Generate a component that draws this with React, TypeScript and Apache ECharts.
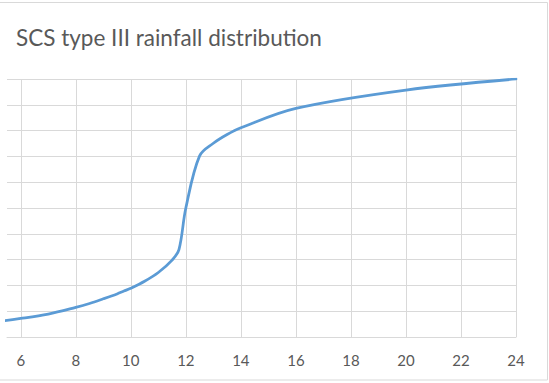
import React, { useEffect, useRef } from "react";
import * as echarts from "echarts";

const hours = [0, 2, 4, 6, 7, 8, 8.5, 9, 9.5, 9.75, 10, 10.5, 11, 11.5, 11.75, 12, 12.5, 13, 13.5, 14, 16, 20, 24];
const cumulative = [0, 0.02, 0.043, 0.072, 0.089, 0.115, 0.13, 0.148, 0.167, 0.178, 0.189, 0.216, 0.25, 0.298, 0.339, 0.5, 0.702, 0.751, 0.785, 0.811, 0.886, 0.957, 1.0];
const xTicks = [6, 8, 10, 12, 14, 16, 18, 20, 22, 24];
const titleText = "SCS type III rainfall distribution";

export default function App() {
  const ref = useRef<HTMLDivElement>(null);
  useEffect(() => {
    if (!ref.current) return;
    const chart = echarts.init(ref.current, undefined, { renderer: "svg" });
    const grid = "#d9d9d9";
    chart.setOption({
      animation: false,
      backgroundColor: "#ffffff",
      title: {
        text: titleText,
        left: 11,
        top: 21,
        textStyle: { fontFamily: "Lato", fontSize: 22.5, fontWeight: "normal", color: "#595959" },
      },
      graphic: [
        {
          type: "rect",
          shape: { x: -10, y: 2.5, width: 557.5, height: 377.5 },
          style: { fill: "none", stroke: grid, lineWidth: 1 },
          silent: true,
        },
      ],
      grid: { left: 7, right: 33, top: 79, bottom: 46, containLabel: false },
      xAxis: {
        type: "value",
        min: 5.5,
        max: 24,
        axisLine: { show: true, lineStyle: { color: grid, width: 1 } },
        axisTick: { show: false, customValues: xTicks },
        axisLabel: {
          customValues: xTicks,
          color: "#595959",
          fontFamily: "Lato",
          fontSize: 15,
          margin: 15,
        },
        splitLine: { show: true, lineStyle: { color: grid, width: 1 } },
      },
      yAxis: {
        type: "value",
        min: 0,
        max: 1,
        interval: 0.1,
        axisLine: { show: false },
        axisTick: { show: false },
        axisLabel: { show: false },
        splitLine: { show: true, lineStyle: { color: grid, width: 1 } },
      },
      series: [
        {
          type: "line",
          data: hours.map((h, i) => [h, cumulative[i]]),
          showSymbol: false,
          smooth: 0.35,
          clip: true,
          lineStyle: { color: "#5b9bd5", width: 2.75, cap: "round", join: "round" },
        },
      ],
    });
    return () => chart.dispose();
  }, []);
  return <div ref={ref} style={{ width: 549, height: 383, position: "absolute", left: 0, top: 0 }} />;
}
